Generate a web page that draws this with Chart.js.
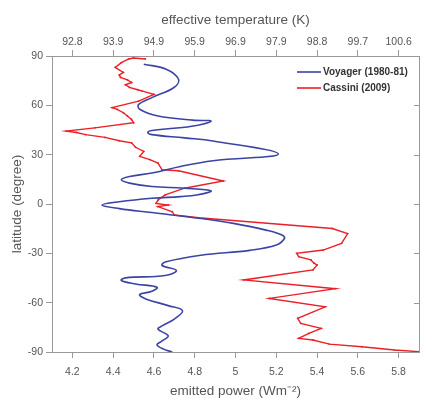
<!DOCTYPE html>
<html>
<head>
<meta charset="utf-8">
<script src="https://cdn.jsdelivr.net/npm/chart.js@4.4.1/dist/chart.umd.min.js"></script>
<style>
  html, body { margin: 0; padding: 0; background: #fff; }
  #wrap { width: 423px; height: 398px; position: relative; }
</style>
</head>
<body>
<div id="wrap"><canvas id="powerChart"></canvas></div>
<script>
// Tick values and labels
const powerTicks = [4.2, 4.4, 4.6, 4.8, 5.0, 5.2, 5.4, 5.6, 5.8];
const powerLabels = ['4.2', '4.4', '4.6', '4.8', '5', '5.2', '5.4', '5.6', '5.8'];
const tempLabels = ['92.8', '93.9', '94.9', '95.9', '96.9', '97.9', '98.8', '99.7', '100.6'];
const latTicks = [-90, -60, -30, 0, 30, 60, 90];

// Voyager (1980-81): emitted power vs latitude
const voyagerPower = [
    4.55, 4.66, 4.72, 4.70, 4.59, 4.525, 4.53, 4.62, 4.79, 4.88,
    4.785, 4.59, 4.57, 4.59, 4.75, 4.89, 5.21, 4.89, 4.73, 4.59,
    4.48, 4.44, 4.48, 4.59, 4.75, 4.88, 4.81, 4.73, 4.59, 4.43,
    4.345, 4.43, 4.59, 4.83, 4.99, 5.15, 5.23, 5.24, 5.20, 5.07,
    4.83, 4.655, 4.64, 4.71, 4.655, 4.46, 4.44, 4.51, 4.615, 4.59,
    4.53, 4.56, 4.67, 4.74, 4.70, 4.64, 4.62, 4.67, 4.64, 4.615,
    4.65, 4.69
];
const voyagerLat = [
    85, 82, 76, 71, 64.7, 60.6, 57.6, 53.5, 51, 50.4,
    47.3, 44.7, 43.5, 42.2, 40.2, 38.3, 30.4, 26.3, 22.8, 18.8,
    16.7, 14.7, 12.7, 10.6, 9.6, 8, 5.5, 4.5, 3.5, 1.4,
    -0.6, -2.8, -5.2, -8.8, -11.8, -15.9, -19, -21, -25, -28.2,
    -31.2, -35.3, -37.4, -40.4, -43.5, -44.9, -46.5, -48.6, -50.6, -53.1,
    -55.1, -57.7, -61.8, -64.9, -70, -74.1, -76.1, -80.2, -83.3, -85.7,
    -88.4, -90
];

// Cassini (2009): emitted power vs latitude
const cassiniPower = [
    4.558, 4.50, 4.476, 4.44, 4.41, 4.45, 4.43, 4.436, 4.47, 4.49,
    4.46, 4.48, 4.52, 4.54, 4.60, 4.525, 4.395, 4.42, 4.45, 4.47,
    4.49, 4.50, 4.31, 4.17, 4.22, 4.265, 4.36, 4.43, 4.49, 4.51,
    4.55, 4.53, 4.58, 4.62, 4.64, 4.72, 4.94, 4.75, 4.655, 4.62,
    4.61, 4.67, 4.62, 4.69, 4.70, 4.82, 5.475, 5.55, 5.52, 5.43,
    5.30, 5.31, 5.37, 5.385, 5.40, 5.38, 5.04, 5.49, 5.166, 5.44,
    5.305, 5.32, 5.42, 5.36, 5.31, 5.38, 5.46, 5.62, 5.78, 5.90
];
const cassiniLat = [
    88.2, 88.8, 88.2, 86, 83.1, 80, 78.5, 77, 75.5, 73.9,
    72.5, 70.9, 69.5, 68.8, 66.7, 62.6, 58.6, 57.5, 55.5, 53.5,
    51.4, 49.4, 46.3, 44.3, 43.5, 42.2, 40.5, 38.5, 37.2, 34.5,
    32, 29, 27, 24.9, 20.8, 20.2, 14, 9.6, 5.5, 2.4,
    0.4, -0.6, -1.6, -4.7, -6.7, -8.4, -14.9, -18, -23.9, -28,
    -30, -32, -34, -36, -37.1, -40.1, -46.2, -51.5, -57.4, -62.5,
    -69.5, -72.6, -75.6, -78.7, -81.7, -82.7, -85.2, -86.8, -88.8, -89.8
];

const axisColor = '#999';
const textColor = '#555';

Chart.defaults.font.family = '"Liberation Sans", Arial, sans-serif';

function toPoints(xs, ys) {
    return xs.map((x, i) => ({ x: x, y: ys[i] }));
}

// Right frame line with inward ticks
const frameRight = {
    id: 'frameRight',
    afterDraw(chart) {
        const ctx = chart.ctx;
        const area = chart.chartArea;
        const yScale = chart.scales.y;
        ctx.save();
        ctx.strokeStyle = axisColor;
        ctx.lineWidth = 1;
        ctx.beginPath();
        ctx.moveTo(area.right + 0.5, area.top);
        ctx.lineTo(area.right + 0.5, area.bottom);
        latTicks.forEach(v => {
            const py = Math.round(yScale.getPixelForValue(v)) + 0.5;
            ctx.moveTo(area.right - 5, py);
            ctx.lineTo(area.right, py);
        });
        ctx.stroke();
        ctx.restore();
    }
};

// Legend in the upper right corner of the plot
const cornerLegend = {
    id: 'cornerLegend',
    afterDraw(chart) {
        const ctx = chart.ctx;
        const area = chart.chartArea;
        ctx.save();
        ctx.font = 'bold 10px "Liberation Sans", Arial, sans-serif';
        ctx.textBaseline = 'middle';
        ctx.fillStyle = '#333';
        chart.data.datasets.forEach((ds, i) => {
            const y = area.top + 16 + i * 16;
            ctx.strokeStyle = ds.borderColor;
            ctx.lineWidth = 1.6;
            ctx.beginPath();
            ctx.moveTo(area.right - 122, y);
            ctx.lineTo(area.right - 98, y);
            ctx.stroke();
            ctx.fillText(ds.label, area.right - 96, y);
        });
        ctx.restore();
    }
};

const ctx = document.getElementById('powerChart');
new Chart(ctx, {
    type: 'scatter',
    data: {
        datasets: [
            {
                label: 'Voyager (1980-81)',
                data: toPoints(voyagerPower, voyagerLat),
                showLine: true,
                borderColor: '#3b44a4',
                borderWidth: 1.6,
                pointRadius: 0,
                tension: 0.4
            },
            {
                label: 'Cassini (2009)',
                data: toPoints(cassiniPower, cassiniLat),
                showLine: true,
                borderColor: '#ec1f26',
                backgroundColor: '#ec1f26',
                borderWidth: 1.4,
                pointRadius: 0.9,
                pointBorderWidth: 0,
                tension: 0
            }
        ]
    },
    options: {
        responsive: true,
        maintainAspectRatio: false,
        animation: false,
        layout: { padding: { left: 0, right: 3, top: 0, bottom: 0 } },
        plugins: {
            legend: { display: false },
            tooltip: { enabled: false }
        },
        scales: {
            x: {
                type: 'linear',
                position: 'bottom',
                min: 4.1,
                max: 5.9,
                afterBuildTicks: s => { s.ticks = powerTicks.map(v => ({ value: v })); },
                afterFit: s => { s.height = 46; },
                ticks: {
                    color: textColor,
                    font: { size: 10.5 },
                    padding: 8,
                    maxRotation: 0,
                    autoSkip: false,
                    callback: (v, i) => powerLabels[i]
                },
                grid: { drawOnChartArea: false, tickLength: 6, color: axisColor },
                border: { color: axisColor },
                title: {
                    display: true,
                    text: 'emitted power (Wm⁻²)',
                    color: textColor,
                    font: { size: 13.5, lineHeight: 1 },
                    padding: 0
                }
            },
            x2: {
                type: 'linear',
                position: 'top',
                min: 4.1,
                max: 5.9,
                afterBuildTicks: s => { s.ticks = powerTicks.map(v => ({ value: v })); },
                afterFit: s => { s.height = 56; },
                ticks: {
                    color: textColor,
                    font: { size: 10.5 },
                    padding: 2,
                    maxRotation: 0,
                    autoSkip: false,
                    callback: (v, i) => tempLabels[i]
                },
                grid: { drawOnChartArea: false, tickLength: 6, color: axisColor },
                border: { color: axisColor },
                title: {
                    display: true,
                    text: 'effective temperature (K)',
                    color: textColor,
                    font: { size: 13.5, lineHeight: 1 },
                    padding: { top: 14, bottom: 0 }
                }
            },
            y: {
                type: 'linear',
                min: -90,
                max: 90,
                afterBuildTicks: s => { s.ticks = latTicks.map(v => ({ value: v })); },
                afterFit: s => { s.width = 52; },
                ticks: {
                    color: textColor,
                    font: { size: 10.5 },
                    padding: 3
                },
                grid: { drawOnChartArea: false, tickLength: 6, color: axisColor },
                border: { color: axisColor },
                title: {
                    display: true,
                    text: 'latitude (degree)',
                    color: textColor,
                    font: { size: 13.5, lineHeight: 1 },
                    padding: { top: 11, bottom: 0 }
                }
            }
        }
    },
    plugins: [frameRight, cornerLegend]
});
</script>
</body>
</html>
